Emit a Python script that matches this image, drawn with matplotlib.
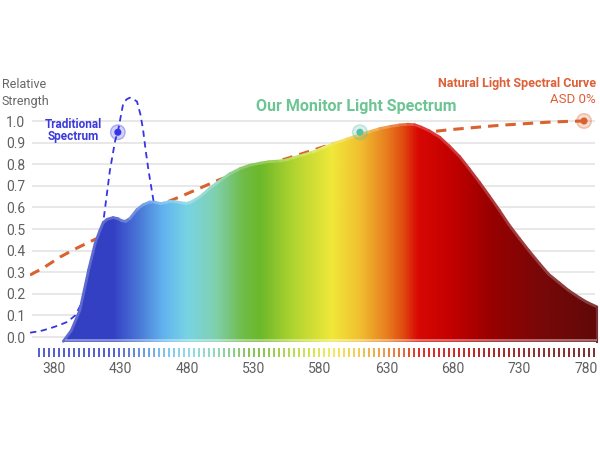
import numpy as np
import matplotlib
matplotlib.use("Agg")
import matplotlib.pyplot as plt
from matplotlib.colors import LinearSegmentedColormap
from matplotlib.collections import LineCollection
from matplotlib.patches import Polygon

plt.rcParams["font.family"] = ["Roboto", "DejaVu Sans"]

# ----- data -----
monitor_wl = [387, 393, 399.5, 406, 411, 414.6, 417, 420, 424.4, 428, 431, 434,
              437, 442.4, 447, 452, 456, 460, 464, 467, 471, 475, 479, 482,
              486, 490, 497, 505, 512, 520, 527, 535, 542, 550, 555, 560, 567,
              575, 582, 590, 600, 610, 618, 625, 633, 640, 646, 651, 656, 662,
              670, 677, 685, 692, 700, 707, 715, 722, 730, 737, 745, 752, 760,
              767, 775.5, 781, 788]
monitor_val = [-0.02, 0.03, 0.125, 0.31, 0.435, 0.495, 0.53, 0.545, 0.553, 0.548,
               0.538, 0.535, 0.548, 0.59, 0.612, 0.625, 0.624, 0.618, 0.622,
               0.628, 0.627, 0.622, 0.619, 0.622, 0.635, 0.65, 0.688, 0.725,
               0.755, 0.78, 0.795, 0.805, 0.812, 0.815, 0.82, 0.83, 0.842, 0.857,
               0.875, 0.895, 0.916, 0.937, 0.952, 0.965, 0.975, 0.982, 0.985,
               0.983, 0.972, 0.955, 0.925, 0.885, 0.835, 0.78, 0.715, 0.655,
               0.585, 0.52, 0.455, 0.4, 0.34, 0.29, 0.25, 0.215, 0.18, 0.16, 0.14]

trad_wl = [362, 370, 377, 384, 390, 396, 401, 406, 411, 417, 422, 426, 428, 432,
           434.5, 437, 440, 442.4, 445, 447, 449, 451, 454.7, 456]
trad_val = [0.02, 0.028, 0.04, 0.055, 0.07, 0.10, 0.16, 0.25, 0.37, 0.53, 0.77,
            0.91, 0.95, 1.08, 1.10, 1.108, 1.10, 1.09, 1.03, 0.958, 0.86, 0.773,
            0.634, 0.58]

natural_wl = [362, 372, 384.5, 395, 405, 417, 435, 455, 475, 490, 505, 530, 557,
              590, 620, 645, 663, 678, 700, 715, 735, 750, 765, 778.5]
natural_val = [0.287, 0.32, 0.37, 0.405, 0.435, 0.47, 0.54, 0.60, 0.65, 0.69,
               0.73, 0.78, 0.83, 0.895, 0.925, 0.94, 0.95, 0.96, 0.972, 0.98,
               0.988, 0.994, 0.998, 1.0]

trad_mark = (428, 0.948)
monitor_mark = (610, 0.948)
natural_mark = (778.5, 1.0)

y_ticks = [0.0, 0.1, 0.2, 0.3, 0.4, 0.5, 0.6, 0.7, 0.8, 0.9, 1.0]
x_ticks = [380, 430, 480, 530, 580, 630, 680, 730, 780]

# ----- spectrum colours -----
WL0, WL1 = 362, 791
stops = [(WL0, "#3340c0"), (424, "#3440c4"), (444, "#4a7ad8"), (462, "#62b4ee"),
         (480, "#78d4e4"), (501, "#80d0b0"), (522, "#70bc48"), (535, "#6cb82a"),
         (560, "#b0d430"), (589, "#f0e83a"), (610, "#f0c030"), (630, "#e88020"),
         (643, "#e04a10"), (654, "#d80804"), (682, "#c00000"), (708, "#9a0000"),
         (747, "#780808"), (WL1, "#600808")]
cmap = LinearSegmentedColormap.from_list(
    "spec", [((w - WL0) / (WL1 - WL0), c) for w, c in stops])


def spec_color(w, light=0.0):
    c = np.array(cmap((w - WL0) / (WL1 - WL0))[:3])
    return tuple(c + (1 - c) * light)


def px(x, y):
    return x / 600, 1 - y / 450


fig = plt.figure(figsize=(6, 4.5), dpi=100)
ax = fig.add_axes([0.05, 0.2031, 0.95, 0.6])
for s in ax.spines.values():
    s.set_visible(False)

ax.hlines(y_ticks, 363.5, 786.6, color="#e4e4e4", lw=1.2, zorder=0)

# comparison curves (under the fill)
ax.plot(natural_wl, natural_val, color="#d9622f", lw=2.2, dashes=(3.4, 2.3),
        zorder=1)
ax.plot(trad_wl, trad_val, color="#3535e6", lw=1.3, dashes=(3.5, 2.5), zorder=1)

# gradient filled spectrum
base = -0.022
poly = [(monitor_wl[0], base)] + list(zip(monitor_wl, monitor_val)) + \
       [(monitor_wl[-1], base)]
patch = Polygon(poly, closed=True, facecolor="none", edgecolor="none")
ax.add_patch(patch)
grad = np.linspace(0, 1, 1000).reshape(1, -1)
im = ax.imshow(grad, extent=(WL0, WL1, -0.05, 1.05), aspect="auto", cmap=cmap,
               zorder=2, interpolation="bilinear")
im.set_clip_path(patch)

# light edge on top of the fill
pts = np.column_stack([monitor_wl, monitor_val])
segs = np.stack([pts[:-1], pts[1:]], axis=1)
mids = (pts[:-1, 0] + pts[1:, 0]) / 2
lc = LineCollection(segs, colors=[spec_color(m, 0.22) for m in mids], lw=2.0,
                    zorder=3, capstyle="round")
ax.add_collection(lc)
ax.plot([monitor_wl[-1], monitor_wl[-1]], [base, monitor_val[-1]],
        color=spec_color(788, 0.15), lw=1.5, zorder=3)
bw = np.linspace(monitor_wl[0] + 1, monitor_wl[-1], 200)
bsegs = np.stack([np.column_stack([bw[:-1], np.full(199, base + 0.006)]),
                  np.column_stack([bw[1:], np.full(199, base + 0.006)])], axis=1)
ax.add_collection(LineCollection(bsegs, colors=[spec_color(w, 0.45) for w in bw[:-1]],
                                 lw=1.3, zorder=3))

# colour ticks under the spectrum
tick_wl = np.arange(369, 789, 3.76)
ax.vlines(tick_wl, -0.093, -0.052, colors=[spec_color(w, 0.12) for w in tick_wl],
          lw=1.35, zorder=2)

# markers
for (mx, my), col in [(trad_mark, "#3535e6"), (monitor_mark, "#5bbfa8"),
                      (natural_mark, "#d9622f")]:
    ax.scatter([mx], [my], s=110, color=col, alpha=0.22, edgecolors="none", zorder=5)
    ax.scatter([mx], [my], s=110, facecolors="none", edgecolors=col, alpha=0.35,
               lw=1, zorder=5)
    ax.scatter([mx], [my], s=26, color=col, edgecolors="none", zorder=6)

ax.set_xlim(361.95, 790.5)
ax.set_ylim(-0.1, 1.15)
ax.set_yticks(y_ticks, [f"{v:.1f}" for v in y_ticks])
ax.set_xticks(x_ticks, [str(v) for v in x_ticks])
ax.tick_params(length=0, labelsize=10, labelcolor="#606060")
ax.tick_params(axis="y", pad=3.5)
ax.tick_params(axis="x", pad=2.5)

# texts
fig.text(*px(2, 84), "Relative", ha="left", va="center", color="#666666", fontsize=9)
fig.text(*px(2, 101), "Strength", ha="left", va="center", color="#666666", fontsize=9)
fig.text(*px(73, 124), "Traditional", ha="center", va="center", color="#3a3adf",
         fontsize=8.5, fontweight="bold")
fig.text(*px(73, 136.5), "Spectrum", ha="center", va="center", color="#3a3adf",
         fontsize=8.5, fontweight="bold")
fig.text(*px(356, 106), "Our Monitor Light Spectrum", ha="center", va="center",
         color="#6cc593", fontsize=11.5, fontweight="bold")
fig.text(*px(596, 83), "Natural Light Spectral Curve", ha="right", va="center",
         color="#dd6038", fontsize=9, fontweight="bold")
fig.text(*px(596, 99.5), "ASD 0%", ha="right", va="center", color="#dd6038",
         fontsize=9.5)

fig.savefig("out.png", dpi=100)
